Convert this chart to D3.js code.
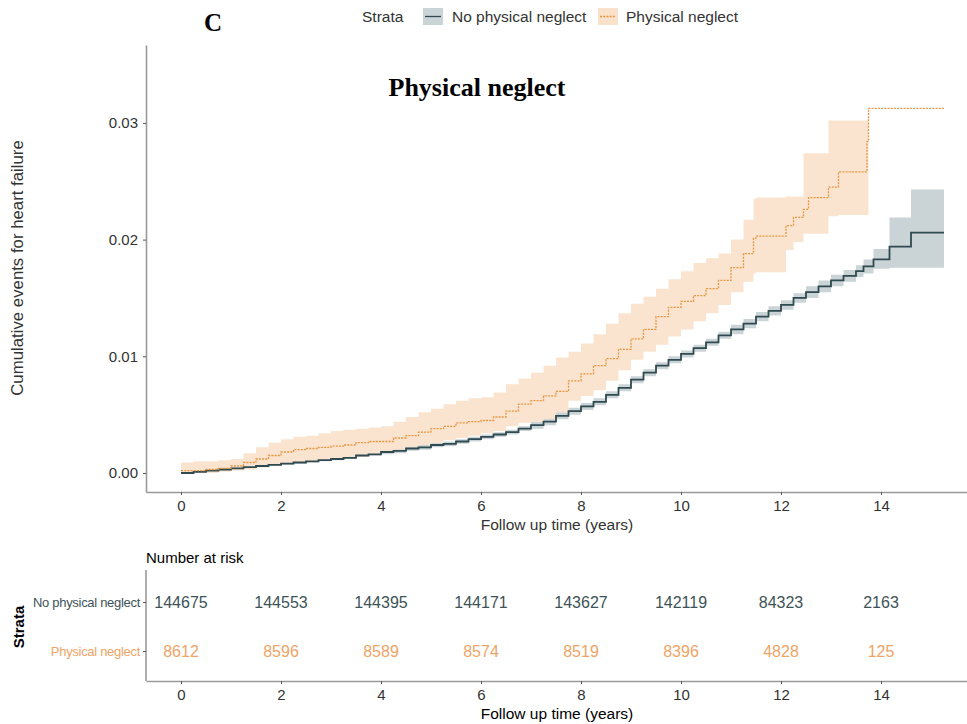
<!DOCTYPE html>
<html>
<head>
<meta charset="utf-8">
<script src="https://cdn.jsdelivr.net/npm/d3@7"></script>
<style>
  body { margin: 0; background: #fff; }
  svg { font-family: "Liberation Sans", Arial, sans-serif; }
</style>
</head>
<body>
<svg id="chart" width="967" height="724"></svg>
<script>
// no physical neglect: time, cumulative events, 95% CI
var noTime = [0, 0.25, 0.5, 0.75, 1, 1.25, 1.5, 1.75, 2, 2.25, 2.5, 2.75, 3, 3.25, 3.5, 3.75,
    4, 4.25, 4.5, 4.75, 5, 5.25, 5.5, 5.75, 6, 6.25, 6.5, 6.75, 7, 7.25, 7.5, 7.75,
    8, 8.25, 8.5, 8.75, 9, 9.25, 9.5, 9.75, 10, 10.25, 10.5, 10.75, 11, 11.25, 11.5, 11.75,
    12, 12.25, 12.5, 12.75, 13, 13.25, 13.5, 13.65, 13.85, 14.17, 14.6, 15.26];
var noEst = [0, 0.0001, 0.0002, 0.0003, 0.0004, 0.0005, 0.0006, 0.0007, 0.0008, 0.0009, 0.0010, 0.0011, 0.0012, 0.0013, 0.0015, 0.0016,
    0.0018, 0.0019, 0.0021, 0.0022, 0.0024, 0.0025, 0.0027, 0.0029, 0.0031, 0.0033, 0.0035, 0.0038, 0.0041, 0.0044, 0.0049, 0.0053,
    0.0057, 0.0061, 0.0067, 0.0073, 0.0080, 0.0086, 0.0092, 0.0097, 0.0102, 0.0107, 0.0112, 0.0118, 0.0123, 0.0128, 0.0134, 0.0139,
    0.0144, 0.0150, 0.0155, 0.0160, 0.0165, 0.0169, 0.0173, 0.0177, 0.0183, 0.0194, 0.0206, 0.0206];
var noLower = [0, 0, 0.0001, 0.0002, 0.0003, 0.0004, 0.0005, 0.0006, 0.0007, 0.0008, 0.0009, 0.0010, 0.0011, 0.0012, 0.0014, 0.0015,
    0.0016, 0.0017, 0.0019, 0.0020, 0.0022, 0.0023, 0.0025, 0.0027, 0.0029, 0.0031, 0.0033, 0.0036, 0.0038, 0.0041, 0.0046, 0.0050,
    0.0054, 0.0058, 0.0064, 0.0070, 0.0077, 0.0083, 0.0089, 0.0094, 0.0099, 0.0104, 0.0109, 0.0115, 0.0119, 0.0124, 0.0130, 0.0135,
    0.0140, 0.0146, 0.0150, 0.0155, 0.0160, 0.0164, 0.0168, 0.0171, 0.0175, 0.0176, 0.0176, 0.0176];
var noUpper = [0.0001, 0.0002, 0.0003, 0.0004, 0.0005, 0.0006, 0.0007, 0.0008, 0.0009, 0.0010, 0.0011, 0.0012, 0.0013, 0.0014, 0.0016, 0.0017,
    0.0020, 0.0021, 0.0023, 0.0024, 0.0026, 0.0027, 0.0029, 0.0031, 0.0033, 0.0035, 0.0037, 0.0040, 0.0044, 0.0047, 0.0052, 0.0056,
    0.0060, 0.0064, 0.0070, 0.0076, 0.0083, 0.0089, 0.0095, 0.0100, 0.0105, 0.0110, 0.0115, 0.0121, 0.0127, 0.0132, 0.0138, 0.0143,
    0.0148, 0.0154, 0.0160, 0.0165, 0.0170, 0.0174, 0.0178, 0.0183, 0.0192, 0.0219, 0.0243, 0.0243];

// physical neglect
var pnTime = [0, 0.25, 0.5, 0.75, 1, 1.25, 1.5, 1.75, 2, 2.25, 2.5, 2.75, 3, 3.25, 3.5, 3.75,
    4, 4.25, 4.5, 4.75, 5, 5.25, 5.5, 5.75, 6, 6.25, 6.5, 6.75, 7, 7.25, 7.5, 7.75,
    8, 8.25, 8.5, 8.75, 9, 9.25, 9.5, 9.75, 10, 10.25, 10.5, 10.75, 11, 11.25, 11.45, 11.5,
    12.1, 12.25, 12.45, 12.55, 12.95, 13.15, 13.72, 13.75, 15.28];
var pnEst = [0.0002, 0.0002, 0.0003, 0.0004, 0.0006, 0.0009, 0.0012, 0.0015, 0.0018, 0.0020, 0.0021, 0.0022, 0.0023, 0.0024, 0.0026, 0.0027,
    0.0027, 0.0030, 0.0032, 0.0035, 0.0038, 0.0040, 0.0043, 0.0044, 0.0045, 0.0048, 0.0053, 0.0059, 0.0062, 0.0066, 0.0070, 0.0079,
    0.0085, 0.0092, 0.0098, 0.0106, 0.0115, 0.0123, 0.0134, 0.0142, 0.0147, 0.0152, 0.0158, 0.0165, 0.0176, 0.0188, 0.0201, 0.0203,
    0.0212, 0.0219, 0.0226, 0.0236, 0.0245, 0.0258, 0.0284, 0.03125, 0.03125];
var pnLower = [0, 0, 0, 0.0001, 0.0002, 0.0003, 0.0005, 0.0006, 0.0008, 0.0009, 0.0010, 0.0011, 0.0012, 0.0013, 0.0014, 0.0016,
    0.0018, 0.0020, 0.0022, 0.0024, 0.0026, 0.0028, 0.0030, 0.0032, 0.0034, 0.0036, 0.0040, 0.0043, 0.0044, 0.0046, 0.0052, 0.0062,
    0.0066, 0.0071, 0.0079, 0.0088, 0.0097, 0.0104, 0.0110, 0.0117, 0.0123, 0.0130, 0.0137, 0.0144, 0.0155, 0.0164, 0.0171, 0.0172,
    0.0191, 0.0198, 0.0205, 0.0205, 0.0220, 0.0221, 0.0221, 0.0221, null];
var pnUpper = [0.0009, 0.0010, 0.0010, 0.0011, 0.0012, 0.0017, 0.0022, 0.0026, 0.0029, 0.0031, 0.0032, 0.0034, 0.0036, 0.0037, 0.0038, 0.0039,
    0.0040, 0.0044, 0.0048, 0.0052, 0.0055, 0.0059, 0.0062, 0.0064, 0.0065, 0.0069, 0.0076, 0.0081, 0.0086, 0.0092, 0.0099, 0.0104,
    0.0111, 0.0119, 0.0128, 0.0137, 0.0145, 0.0151, 0.0158, 0.0166, 0.0173, 0.0180, 0.0184, 0.0188, 0.0200, 0.0217, 0.0235, 0.0236,
    0.0237, 0.0237, 0.0274, 0.0274, 0.0302, 0.0302, 0.0302, 0.0302, null];

var strata = ["No physical neglect", "Physical neglect"];
var riskTimes = [0, 2, 4, 6, 8, 10, 12, 14];
var riskNo = [144675, 144553, 144395, 144171, 143627, 142119, 84323, 2163];
var riskPn = [8612, 8596, 8589, 8574, 8519, 8396, 4828, 125];
var xTicks = [0, 2, 4, 6, 8, 10, 12, 14];
var yTicks = [0, 0.01, 0.02, 0.03];

var colNo = "#2f4a50", colPn = "#e8953f";
var ribNo = "#cad3d6", ribPn = "#f9e1cb";
var axisCol = "#9a9a9a", textCol = "#333";

var svg = d3.select("#chart");

function series(t, est, lo, up) {
    return t.map(function(d, i) { return {t: d, v: est[i], lo: lo[i], up: up[i]}; });
}
var noData = series(noTime, noEst, noLower, noUpper);
var pnData = series(pnTime, pnEst, pnLower, pnUpper);

var x = d3.scaleLinear().domain([-0.7, 15.72]).range([146, 967]);
var y = d3.scaleLinear().domain([-0.00163, 0.03668]).range([492, 45]);

var area = d3.area()
    .defined(function(d) { return d.lo !== null; })
    .curve(d3.curveStepAfter)
    .x(function(d) { return x(d.t); })
    .y0(function(d) { return y(d.lo); })
    .y1(function(d) { return y(d.up); });
var line = d3.line()
    .curve(d3.curveStepAfter)
    .x(function(d) { return x(d.t); })
    .y(function(d) { return y(d.v); });

var plot = svg.append("g");
plot.append("path").datum(noData).attr("d", area).attr("fill", ribNo);
plot.append("path").datum(pnData).attr("d", area).attr("fill", ribPn).attr("fill-opacity", 0.9);
plot.append("path").datum(noData).attr("d", line)
    .attr("fill", "none").attr("stroke", colNo).attr("stroke-width", 1.8);
plot.append("path").datum(pnData).attr("d", line)
    .attr("fill", "none").attr("stroke", colPn).attr("stroke-width", 1.3)
    .attr("stroke-dasharray", "2,1.2");

function styleAxis(g) {
    g.select(".domain").attr("stroke", axisCol).attr("stroke-width", 1.6);
    g.selectAll(".tick line").attr("stroke", "#555");
    g.selectAll(".tick text").attr("fill", textCol).style("font-size", "15px");
}

// main axes
svg.append("g").attr("transform", "translate(0,492)")
    .call(d3.axisBottom(x).tickValues(xTicks).tickSize(3).tickSizeOuter(0).tickPadding(5))
    .call(styleAxis);
svg.append("g").attr("transform", "translate(146,0)")
    .call(d3.axisLeft(y).tickValues(yTicks).tickFormat(d3.format(".2f")).tickSize(3).tickSizeOuter(0).tickPadding(5))
    .call(styleAxis);

svg.append("text").attr("x", 557).attr("y", 530).attr("text-anchor", "middle")
    .attr("fill", textCol).style("font-size", "15.5px").text("Follow up time (years)");
svg.append("text").attr("transform", "translate(23,268) rotate(-90)").attr("text-anchor", "middle")
    .attr("fill", textCol).style("font-size", "16.8px").text("Cumulative events for heart failure");

// titles
svg.append("text").attr("x", 477).attr("y", 96).attr("text-anchor", "middle")
    .style("font-family", "'Liberation Serif', 'Times New Roman', serif")
    .style("font-weight", "bold").style("font-size", "26px").attr("fill", "#000").text("Physical neglect");
svg.append("text").attr("x", 213).attr("y", 31).attr("text-anchor", "middle")
    .style("font-family", "'Liberation Serif', 'Times New Roman', serif")
    .style("font-weight", "bold").style("font-size", "25px").attr("fill", "#000").text("C");

// legend
var leg = svg.append("g");
leg.append("text").attr("x", 362).attr("y", 22).attr("fill", textCol).style("font-size", "15.5px").text("Strata");
var keys = [{x: 423, rib: ribNo, col: colNo, dash: null, label: strata[0], lx: 452},
            {x: 598, rib: ribPn, col: colPn, dash: "2,1.2", label: strata[1], lx: 626}];
keys.forEach(function(k) {
    leg.append("rect").attr("x", k.x).attr("y", 8).attr("width", 20).attr("height", 17).attr("fill", k.rib);
    leg.append("line").attr("x1", k.x + 2).attr("x2", k.x + 18).attr("y1", 16.5).attr("y2", 16.5)
        .attr("stroke", k.col).attr("stroke-width", 1.3).attr("stroke-dasharray", k.dash);
    leg.append("text").attr("x", k.lx).attr("y", 22).attr("fill", textCol).style("font-size", "15.5px").text(k.label);
});

// risk table
svg.append("text").attr("x", 146).attr("y", 563).attr("fill", "#000").style("font-size", "15px").text("Number at risk");
var yr = d3.scalePoint().domain(strata).range([602, 651]);
svg.append("g").attr("transform", "translate(146,0)")
    .call(d3.axisLeft(yr).tickSize(3).tickPadding(3))
    .call(styleAxis)
    .call(function(g) {
        g.select(".domain").attr("d", "M0,570V681");
        g.selectAll(".tick text").style("font-size", "13px").style("letter-spacing", "-0.3px")
            .attr("fill", function(d) { return d === strata[0] ? "#3e5358" : "#eea466"; });
    });
svg.append("g").attr("transform", "translate(0,681)")
    .call(d3.axisBottom(x).tickValues(xTicks).tickSize(3).tickSizeOuter(0).tickPadding(5))
    .call(styleAxis);
svg.append("text").attr("x", 557).attr("y", 719).attr("text-anchor", "middle")
    .attr("fill", "#000").style("font-size", "15.5px").text("Follow up time (years)");
svg.append("text").attr("transform", "translate(24,627) rotate(-90)").attr("text-anchor", "middle")
    .attr("fill", "#000").style("font-size", "15px").style("font-weight", "bold").text("Strata");

[[riskNo, strata[0], "#3e5358"], [riskPn, strata[1], "#eea466"]].forEach(function(r) {
    svg.append("g").selectAll("text").data(r[0]).enter().append("text")
        .attr("x", function(d, i) { return x(riskTimes[i]); })
        .attr("y", yr(r[1]))
        .attr("dy", "0.35em").attr("text-anchor", "middle")
        .attr("fill", r[2]).style("font-size", "16px")
        .text(function(d) { return d; });
});
</script>
</body>
</html>
